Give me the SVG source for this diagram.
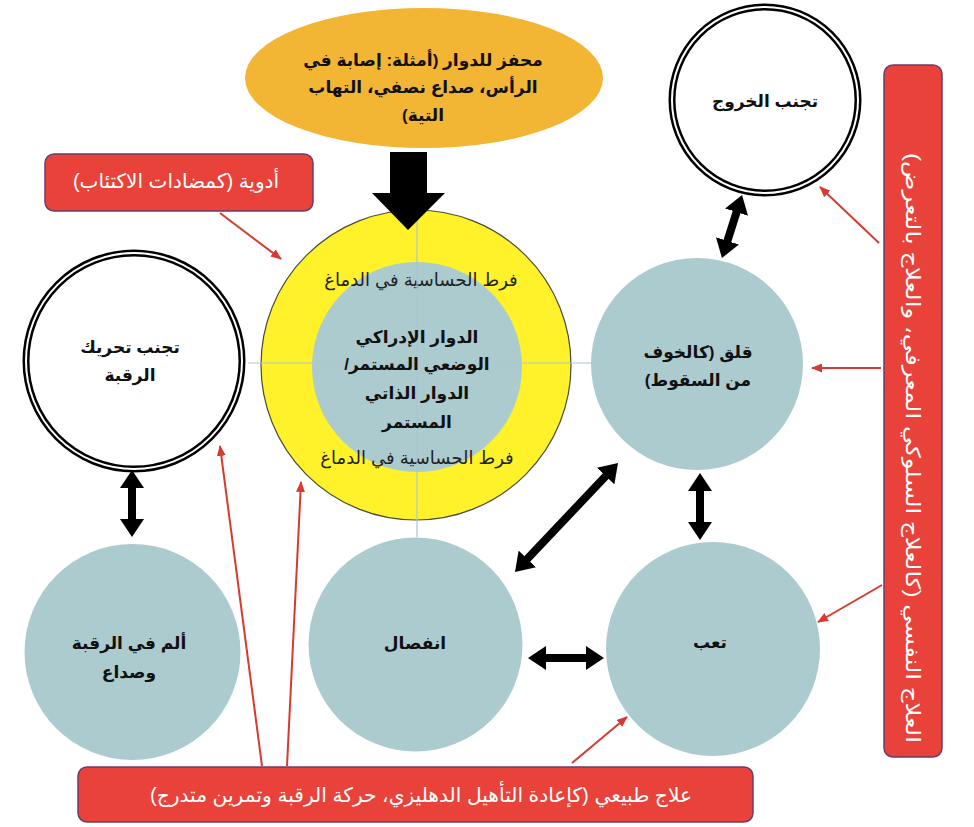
<svg xmlns="http://www.w3.org/2000/svg" width="974" height="827" viewBox="0 0 974 827">
<style>
text{font-family:"Liberation Sans","DejaVu Sans",sans-serif;direction:rtl;text-anchor:middle;dominant-baseline:central}
.nd{font-weight:bold;font-size:17px;fill:#111}
.wt{fill:#fff;font-size:20px}
.ring{font-size:18px;fill:#222}
.teal{fill:#ACCBCF}
.dbl{fill:#fff;stroke:#000;stroke-width:7}
.dbl2{fill:none;stroke:#fff;stroke-width:2}
.box{fill:#E8423A;stroke:#6E3D66;stroke-width:1.5}
.blk{stroke:#000;stroke-width:8;marker-start:url(#bh);marker-end:url(#bh)}
.red{stroke:#D63A30;stroke-width:2;marker-end:url(#rh)}
.cross{stroke:#A9C7CF;stroke-width:1.2}
</style>
<defs>
<marker id="bh" viewBox="0 0 18 24" markerWidth="18" markerHeight="24" refX="4" refY="12" orient="auto-start-reverse" markerUnits="userSpaceOnUse"><path d="M0,0 L18,12 L0,24 z" fill="#000"/></marker>
<marker id="rh" viewBox="0 0 11 9" markerWidth="11" markerHeight="9" refX="10" refY="4.5" orient="auto" markerUnits="userSpaceOnUse"><path d="M0,0 L11,4.5 L0,9 z" fill="#D63A30"/></marker>
</defs>
<rect width="974" height="827" fill="#fff"/>

<g id="trigger">
<ellipse cx="424" cy="78" rx="179" ry="70" fill="#F3B634"/>
<text class="nd" x="423" y="60" font-size="18">محفز للدوار (أمثلة: إصابة في</text>
<text class="nd" x="423" y="87" font-size="18">الرأس، صداع نصفي، التهاب</text>
<text class="nd" x="423" y="115" font-size="18">التية)</text>
</g>

<g id="ring">
<circle cx="416" cy="365" r="155" fill="#FFF22A" stroke="#4A4A3A" stroke-width="1.2"/>
<circle class="teal" cx="417" cy="367" r="105"/>
<text class="ring" x="421" y="280">فرط الحساسية في الدماغ</text>
<text class="ring" x="417" y="458">فرط الحساسية في الدماغ</text>
</g>

<g id="connectors">
<line class="cross" x1="248" y1="363" x2="592" y2="363"/>
<line class="cross" x1="417" y1="212" x2="417" y2="537"/>
<polygon points="390,152 427,152 427,193 445,193 408,230 372,193 390,193" fill="#000"/>
<line class="blk" x1="132" y1="484" x2="132" y2="523"/>
<line class="blk" x1="737.8" y1="208.3" x2="726.2" y2="244.7"/>
<line class="blk" x1="700" y1="487" x2="700" y2="526"/>
<line class="blk" x1="608.4" y1="473.2" x2="524.6" y2="561.8"/>
<line class="blk" x1="542" y1="658" x2="590" y2="658"/>
<line class="red" x1="220" y1="213" x2="281" y2="259"/>
<line class="red" x1="262" y1="766" x2="220" y2="446"/>
<line class="red" x1="287" y1="766" x2="301" y2="482"/>
<line class="red" x1="572" y1="763" x2="627" y2="717"/>
<line class="red" x1="879" y1="243" x2="820" y2="187"/>
<line class="red" x1="881" y1="368" x2="812" y2="368"/>
<line class="red" x1="882" y1="585" x2="818" y2="622"/>
</g>

<g id="core">
<text class="nd" x="417" y="337">الدوار الإدراكي</text>
<text class="nd" x="417" y="364">الوضعي المستمر/</text>
<text class="nd" x="417" y="393">الدوار الذاتي</text>
<text class="nd" x="417" y="422">المستمر</text>
</g>

<g id="avoid-neck">
<circle class="dbl" cx="134" cy="361" r="108"/>
<circle class="dbl2" cx="134" cy="361" r="108"/>
<text class="nd" x="130" y="347">تجنب تحريك</text>
<text class="nd" x="130" y="375">الرقبة</text>
</g>

<g id="neck-pain">
<circle class="teal" cx="132.5" cy="652" r="108"/>
<text class="nd" x="129" y="643" font-size="16">ألم في الرقبة</text>
<text class="nd" x="129" y="672" font-size="16">وصداع</text>
</g>

<g id="avoid-out">
<circle class="dbl" cx="765" cy="100" r="93"/>
<circle class="dbl2" cx="765" cy="100" r="93"/>
<text class="nd" x="765" y="101">تجنب الخروج</text>
</g>

<g id="anxiety">
<circle class="teal" cx="697" cy="364" r="106"/>
<text class="nd" x="698" y="352">قلق (كالخوف</text>
<text class="nd" x="698" y="380">من السقوط)</text>
</g>

<g id="disconnect">
<circle class="teal" cx="415.5" cy="644.5" r="107"/>
<text class="nd" x="415" y="643">انفصال</text>
</g>

<g id="fatigue">
<circle class="teal" cx="713" cy="649" r="107"/>
<text class="nd" x="710" y="642">تعب</text>
</g>

<g id="meds">
<rect class="box" x="45" y="154" width="268" height="57" rx="9"/>
<text class="wt" x="176" y="181">أدوية (كمضادات الاكتئاب)</text>
</g>

<g id="psych">
<rect class="box" x="884" y="65" width="58" height="692" rx="9"/>
<text class="wt" transform="translate(913,448) rotate(90)" x="0" y="0" font-size="20" textLength="590" lengthAdjust="spacingAndGlyphs">العلاج النفسي (كالعلاج السلوكي المعرفي، والعلاج بالتعرض)</text>
</g>

<g id="physio">
<rect class="box" x="78" y="767" width="675" height="55" rx="9"/>
<text class="wt" x="421" y="795" textLength="542" lengthAdjust="spacingAndGlyphs">علاج طبيعي (كإعادة التأهيل الدهليزي، حركة الرقبة وتمرين متدرج)</text>
</g>
</svg>
